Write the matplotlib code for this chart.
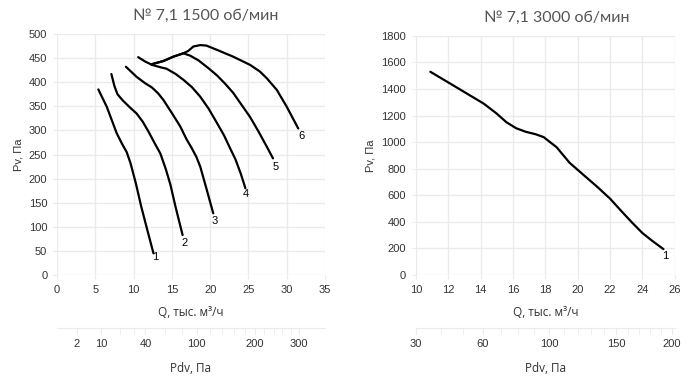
import numpy as np
import matplotlib
matplotlib.use('Agg')
import matplotlib.pyplot as plt

# --- данные: № 7,1 1500 об/мин (Q, тыс. м3/ч ; Pv, Па) ---
q1 = [5.4, 6.5, 7.8, 8.5, 9.1, 9.6, 10.3, 11.0, 11.8, 12.6]
p1 = [385, 349, 294, 272, 255, 232, 190, 142, 93, 45]
q2 = [7.1, 7.5, 7.9, 8.6, 9.5, 10.4, 11.2, 12.0, 12.8, 13.5, 14.2, 14.8, 15.5, 16.4]
p2 = [417, 392, 375, 362, 348, 335, 318, 296, 272, 252, 220, 188, 140, 83]
q3 = [9.0, 10.4, 11.5, 12.4, 13.2, 13.9, 15.0, 16.1, 16.9, 17.6, 18.2, 18.7, 19.5, 20.4]
p3 = [432, 411, 398, 389, 377, 363, 336, 308, 282, 263, 245, 225, 180, 128]
q4 = [10.6, 11.5, 12.4, 13.5, 14.3, 15.5, 16.5, 17.6, 18.7, 19.8, 20.9, 21.8, 22.6, 23.3, 24.0, 24.6]
p4 = [452, 443, 436, 431, 428, 417, 405, 390, 370, 345, 315, 290, 263, 240, 210, 180]
q5 = [12.3, 13.9, 15.2, 16.5, 17.4, 18.5, 19.7, 20.9, 22.0, 23.0, 24.1, 25.2, 26.3, 27.4, 28.2]
p5 = [437, 444, 453, 460, 455, 445, 430, 414, 396, 378, 353, 328, 298, 266, 242]
q6 = [12.3, 13.9, 15.2, 16.5, 17.15, 17.8, 18.7, 19.5, 20.9, 23.0, 25.2, 26.5, 27.4, 28.7, 30.0, 31.5]
p6 = [437, 444, 453, 460, 465, 474, 477, 476, 467, 453, 436, 422, 408, 384, 349, 304]
curves_left = [(q1, p1), (q2, p2), (q3, p3), (q4, p4), (q5, p5), (q6, p6)]
# подписи кривых (Q, P)
labels_left = ['1', '2', '3', '4', '5', '6']
lab_q_left = [12.8, 16.6, 20.6, 24.6, 28.6, 31.9]
lab_p_left = [38, 67, 113, 168, 225, 288]

# --- № 7,1 3000 об/мин ---
q_r = [10.9, 12.1, 13.1, 14.2, 15.0, 15.6, 16.2, 16.8, 17.4, 17.9, 18.3, 18.7,
       19.5, 20.3, 21.2, 22.0, 22.8, 23.4, 24.0, 24.6, 25.3]
p_r = [1530, 1443, 1370, 1290, 1215, 1150, 1105, 1078, 1060, 1038, 1000, 962,
       845, 760, 665, 575, 468, 390, 316, 258, 195]
lab_q_right = 25.4
lab_p_right = 143

# шкала Pdv (динамическое давление ~ 0.3*Q^2)
k_pdv = 0.3
pdv_lab_left = [2, 10, 40, 100, 200, 300]
pdv_ticks_left = [2, 10, 20, 30, 40, 60, 80, 100, 120, 140, 160, 180, 200, 220, 240, 260, 280, 300]
pdv_lab_right = [30, 60, 100, 150, 200]
pdv_ticks_right = list(range(30, 201, 10))

grid_c = '#ebebeb'
txt_c = '#333333'
tick_font = 'Liberation Sans'

fig = plt.figure(figsize=(7, 3.82), dpi=100)


def main_axes(rect, xlim, xstep, ylim, ystep, title, title_x):
    ax = fig.add_axes(rect)
    ax.set_xlim(*xlim)
    ax.set_ylim(*ylim)
    ax.set_xticks(np.arange(xlim[0], xlim[1] + 0.01, xstep))
    ax.set_yticks(np.arange(ylim[0], ylim[1] + 0.01, ystep))
    ax.grid(True, color=grid_c, lw=1)
    ax.set_axisbelow(True)
    for s in ax.spines.values():
        s.set_visible(False)
    ax.tick_params(length=3, color=grid_c, labelcolor=txt_c, labelsize=8, pad=4)
    for t in ax.get_xticklabels() + ax.get_yticklabels():
        t.set_fontfamily(tick_font)
    ax.set_ylabel('Pv, Па', fontsize=8, color=txt_c, family=tick_font, labelpad=4)
    ax.text(title_x, 1.075, title, transform=ax.transAxes, ha='center', va='center',
            fontsize=11.5, color='#555555', family='Lato')
    ax.text(0.5, -0.155, 'Q, тыс. м³/ч', transform=ax.transAxes, ha='center', va='center',
            fontsize=8.5, color=txt_c, family='Open Sans')
    return ax


def pdv_axes(rect, xlim, ticks, labs):
    # отдельная ось снизу: линия + засечки + подписи Pdv
    ax = fig.add_axes(rect)
    ax.set_xlim(*xlim)
    ax.set_yticks([])
    for s in ['left', 'right', 'top']:
        ax.spines[s].set_visible(False)
    ax.spines['bottom'].set_color(grid_c)
    ax.set_xticks([np.sqrt(v / k_pdv) for v in ticks], minor=True)
    ax.set_xticks([np.sqrt(v / k_pdv) for v in labs])
    ax.set_xticklabels([str(v) for v in labs])
    ax.tick_params(which='both', direction='out', length=4, color=grid_c,
                   labelcolor=txt_c, labelsize=8, pad=4)
    for t in ax.get_xticklabels():
        t.set_fontfamily(tick_font)
    ax.patch.set_visible(False)
    return ax


# левый график
axL = main_axes([0.0814, 0.280, 0.383, 0.631], (0, 35), 5, (0, 500), 50,
                '№ 7,1 1500 об/мин', 0.556)
for (q, p) in curves_left:
    axL.plot(q, p, color='black', lw=1.6, solid_capstyle='round')
for lab, lq, lp in zip(labels_left, lab_q_left, lab_p_left):
    axL.text(lq, lp, lab, ha='center', va='center', fontsize=8, family=tick_font)

# правый график
axR = main_axes([0.594, 0.280, 0.370, 0.626], (10, 26), 2, (0, 1800), 200,
                '№ 7,1 3000 об/мин', 0.543)
axR.plot(q_r, p_r, color='black', lw=1.6, solid_capstyle='round')
axR.text(lab_q_right, lab_p_right, '1', ha='center', va='center', fontsize=8, family=tick_font)

# шкалы Pdv
pdv_y = (382 - 328) / 382
pdv_axes([0.0814, pdv_y, 0.383, 0.001], (0, 35), pdv_ticks_left, pdv_lab_left)
pdv_axes([0.594, pdv_y, 0.370, 0.001], (10, 26), pdv_ticks_right, pdv_lab_right)
fig.text(0.0814 + 0.383 / 2, 1 - 368 / 382, 'Pdv, Па', ha='center', va='center',
         fontsize=8.5, color=txt_c, family='Open Sans')
fig.text(0.594 + 0.370 / 2, 1 - 368 / 382, 'Pdv, Па', ha='center', va='center',
         fontsize=8.5, color=txt_c, family='Open Sans')

fig.savefig('out.png', dpi=100)
